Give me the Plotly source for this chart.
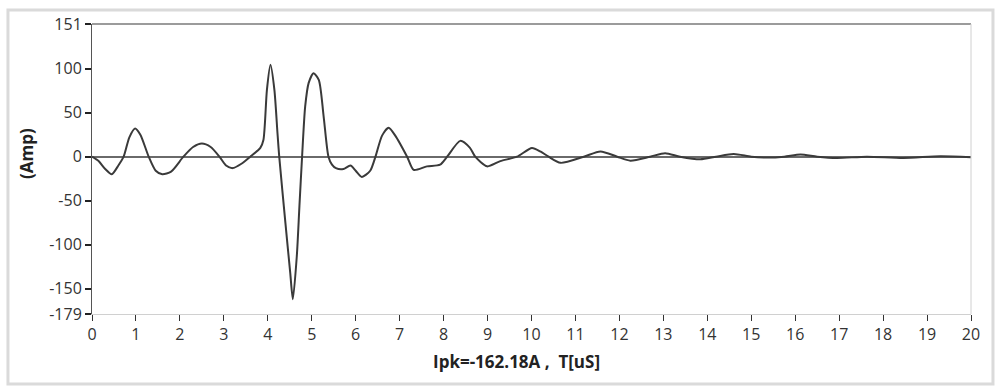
import plotly.graph_objects as go

# time in microseconds, current in amps
t_us = [0.0, 0.15, 0.3, 0.45, 0.6, 0.72, 0.85, 0.98, 1.1, 1.29, 1.45, 1.6, 1.8, 2.08,
        2.3, 2.5, 2.7, 2.9, 3.05, 3.2, 3.4, 3.6, 3.83, 3.9, 3.98, 4.06, 4.15, 4.22,
        4.26, 4.4, 4.51, 4.57, 4.66, 4.72, 4.78, 4.85, 4.93, 5.04, 5.16, 5.27, 5.38,
        5.46, 5.55, 5.72, 5.88, 6.0, 6.14, 6.33, 6.45, 6.6, 6.75, 6.9, 7.17, 7.32,
        7.62, 7.92, 8.08, 8.38, 8.6, 8.72, 8.99, 9.29, 9.67, 10.01, 10.2, 10.39,
        10.66, 11.19, 11.57, 11.95, 12.25, 12.7, 13.04, 13.38, 13.84, 14.2, 14.6,
        15.0, 15.36, 15.75, 16.12, 16.5, 16.95, 17.63, 18.46, 19.3, 20.0]
amp = [0, -5, -14, -20, -10, 0, 22, 32, 25, 0, -16, -20, -17, 0,
       11, 15, 11, 0, -10, -13, -8, 0, 10, 19, 76, 104.5, 76, 27,
       0, -75, -132, -162.18, -113, -56, 0, 57, 84, 95, 87.5, 46, 0,
       -9, -13, -14, -10, -16, -23, -16, 0, 24, 33, 24, 0, -15,
       -11, -9, 0, 18, 10, 0, -11, -5, 0, 10, 6, 0,
       -7, 0, 6, 0, -4.5, 0, 4, 0, -3, 0, 3,
       0, -1, 0, 2.5, 0, -1.5, 0, -1.5, 0.5, -0.5]

y_ticks = [151, 100, 50, 0, -50, -100, -150, -179]
y_tick_text = ["151", "100", "50", "0", "-50", "-100", "-150", "-179"]
x_ticks = list(range(0, 21))

x_title = "Ipk=-162.18A ,\u00a0 T[uS]"
y_title = "(Amp)"

FONT = "Open Sans"

fig = go.Figure()
fig.add_trace(go.Scatter(
    x=t_us, y=amp, mode="lines",
    line=dict(color="#3a3a3a", width=2, shape="spline", smoothing=0.7),
    hoverinfo="skip", showlegend=False,
))

fig.update_layout(
    width=996, height=387,
    margin=dict(l=92, r=25, t=24, b=73),
    paper_bgcolor="white", plot_bgcolor="white",
    font=dict(family=FONT, size=16, color="#333333"),
    xaxis=dict(
        range=[0, 20], tickvals=x_ticks, ticktext=[str(v) for v in x_ticks],
        showgrid=False, zeroline=False,
        showline=True, linecolor="#d0d0d0", linewidth=1,
        ticks="outside", ticklen=6, tickwidth=1, tickcolor="#333333",
        tickfont=dict(family=FONT, size=16, color="#333333"),
    ),
    yaxis=dict(
        range=[-179, 151], tickvals=y_ticks, ticktext=y_tick_text,
        showgrid=False, zeroline=True, zerolinecolor="#6a6a6a", zerolinewidth=2,
        showline=True, linecolor="#555555", linewidth=1,
        ticks="outside", ticklen=6, tickwidth=2, tickcolor="#222222",
        tickfont=dict(family=FONT, size=16, color="#333333"),
    ),
    shapes=[
        # plot top border
        dict(type="line", xref="paper", yref="paper", x0=0, x1=1, y0=1, y1=1,
             line=dict(color="#7a7a7a", width=1.5)),
        # plot right border
        dict(type="line", xref="paper", yref="paper", x0=1, x1=1, y0=0, y1=1,
             line=dict(color="#d0d0d0", width=1)),
        # outer frame
        dict(type="rect", xref="paper", yref="paper",
             x0=-0.0956, x1=1.025, y0=-0.2414, y1=1.0483,
             line=dict(color="#dadada", width=3)),
    ],
    annotations=[
        dict(text="<b>" + x_title + "</b>", xref="paper", yref="paper",
             x=(516 - 92) / 879, y=(314 - 362) / 290, showarrow=False,
             xanchor="center", yanchor="middle",
             font=dict(family=FONT, size=17, color="#222222")),
        dict(text="<b>" + y_title + "</b>", xref="paper", yref="paper",
             x=(26 - 92) / 879, y=(314 - 154) / 290, showarrow=False, textangle=-90,
             xanchor="center", yanchor="middle",
             font=dict(family=FONT, size=17, color="#222222")),
    ],
)

fig.write_html("out.html")
